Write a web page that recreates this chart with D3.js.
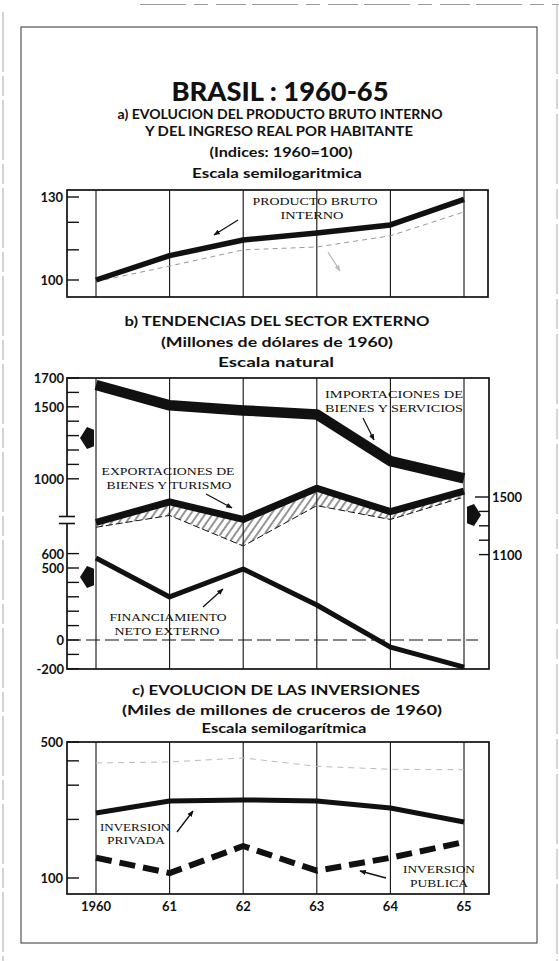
<!DOCTYPE html>
<html><head><meta charset="utf-8">
<script src="https://cdn.jsdelivr.net/npm/d3@7"></script>
<style>body{margin:0;background:#fff}</style>
</head><body>
<svg id="chart" width="559" height="961"></svg>
<script>
// ---------- DATA ----------
const years = [1960, 1961, 1962, 1963, 1964, 1965];
const yearLabels = ["1960", "61", "62", "63", "64", "65"];
// a) indices 1960=100
const productoBruto = [100, 108, 113.5, 116, 119, 129];
const ingresoHabitante = [99.5, 104.5, 110, 111, 115, 124];
// b) millones de dolares de 1960
const importaciones = [1651, 1510, 1475, 1447, 1123, 1003];
const exportaciones = [1324, 1466, 1344, 1561, 1398, 1540];
const exportacionesBase = [1290, 1372, 1160, 1440, 1344, 1500];
const financiamiento = [569, 299, 493, 243, -49, -188];
// c) miles de millones de cruceros de 1960
const inversionPrivada = [216, 249, 252, 249, 229, 194];
const inversionPublica = [127, 106, 146, 109, 127, 153];
const inversionTotal = [390, 395, 414, 375, 362, 360];
// ticks
const ticksA = [100, 110, 120, 130];
const labelsA = [100, 130];
const ticksBUpper = [1000, 1100, 1200, 1300, 1400, 1500, 1600, 1700];
const labelsBUpper = [1700, 1500, 1000];
const ticksBLower = [-200, -100, 0, 100, 200, 300, 400, 500, 600];
const labelsBLower = [600, 500, 0, -200];
const ticksBRight = [1100, 1200, 1300, 1400, 1500];
const labelsBRight = [1500, 1100];
const ticksC = [100, 200, 300, 400, 500];
const labelsC = [100, 500];

// ---------- SETUP ----------
const svg = d3.select("#chart");
const INK = "#111";
const SANS = "Lato, 'Open Sans', 'DejaVu Sans', sans-serif";
const SERIF = "'Liberation Serif', 'DejaVu Serif', serif";
const L = 67, R = 488;

const x = d3.scaleLinear().domain([1960, 1965]).range([96, 464]);
const yA = d3.scaleLog().domain([100, 130]).range([280, 197]);
const yBU = d3.scaleLinear().domain([1000, 1700]).range([478.8, 378]);
const yBL = d3.scaleLinear().domain([-200, 600]).range([668.8, 553.6]);
const yBR = d3.scaleLinear().domain([1100, 1500]).range([554.6, 497]);
const yC = d3.scaleLog().domain([100, 500]).range([878, 742]);

const defs = svg.append("defs");
defs.append("marker").attr("id", "ah").attr("viewBox", "0 0 10 10")
  .attr("refX", 9).attr("refY", 5).attr("markerWidth", 5).attr("markerHeight", 5)
  .attr("orient", "auto").append("path").attr("d", "M0,1 L10,5 L0,9 z").attr("fill", INK);
defs.append("marker").attr("id", "ahg").attr("viewBox", "0 0 10 10")
  .attr("refX", 9).attr("refY", 5).attr("markerWidth", 5).attr("markerHeight", 5)
  .attr("orient", "auto").append("path").attr("d", "M0,1 L10,5 L0,9 z").attr("fill", "#bbb");
const pat = defs.append("pattern").attr("id", "hatch").attr("patternUnits", "userSpaceOnUse")
  .attr("width", 6).attr("height", 6).attr("patternTransform", "rotate(35)");
pat.append("line").attr("x1", 1).attr("y1", 0).attr("x2", 1).attr("y2", 6)
  .attr("stroke", INK).attr("stroke-width", 1.2);

function text(str, cx, y, opt = {}) {
  const t = svg.append("text").attr("x", cx).attr("y", y)
    .attr("text-anchor", opt.anchor || "middle")
    .attr("font-family", opt.family || SANS)
    .attr("font-size", opt.size || 14)
    .attr("font-weight", opt.weight || "bold")
    .attr("fill", opt.fill || INK)
    .text(str);
  if (opt.len) t.attr("textLength", opt.len).attr("lengthAdjust", "spacingAndGlyphs");
  return t;
}
function line(x1, y1, x2, y2, w = 1.2, col = INK, dash = null) {
  const l = svg.append("line").attr("x1", x1).attr("y1", y1).attr("x2", x2).attr("y2", y2)
    .attr("stroke", col).attr("stroke-width", w);
  if (dash) l.attr("stroke-dasharray", dash);
  return l;
}
function arrow(x1, y1, x2, y2, col = INK) {
  line(x1, y1, x2, y2, 1.3, col).attr("marker-end", col === INK ? "url(#ah)" : "url(#ahg)");
}
function blockArrow(tipX, cy, dir) {
  // dir = -1 points left, +1 points right
  const h = 11, head = 7, len = 14;
  const bx = tipX - dir * head, ex = tipX - dir * len;
  svg.append("path").attr("d",
    `M${tipX},${cy} L${bx},${cy - h} L${ex},${cy - h * 0.75} L${ex},${cy + h * 0.75} L${bx},${cy + h} Z`)
    .attr("fill", INK);
}
function box(top, bottom, right) {
  svg.append("rect").attr("x", L).attr("y", top).attr("width", right - L).attr("height", bottom - top)
    .attr("fill", "none").attr("stroke", INK).attr("stroke-width", 1.7);
}
function grid(top, bottom) {
  years.forEach(yr => line(x(yr), top, x(yr), bottom, 1.1));
}
function series(vals, scale, w, dash, col = INK) {
  const gen = d3.line().x((d, i) => x(years[i])).y(d => scale(d));
  const p = svg.append("path").attr("d", gen(vals)).attr("fill", "none")
    .attr("stroke", col).attr("stroke-width", w)
    .attr("stroke-linejoin", "round").attr("stroke-linecap", "butt");
  if (dash) p.attr("stroke-dasharray", dash);
  return p;
}

// ---------- FRAMES ----------
line(140, 4.5, 559, 4.5, 1, "#999", "46,8,14,8,30,6");
line(3, 12, 3, 961, 1, "#aaa", "60,4,20,4");
line(557, 4, 557, 961, 1, "#aaa", "70,5,30,5");
svg.append("rect").attr("x", 21).attr("y", 27).attr("width", 516).attr("height", 916)
  .attr("fill", "none").attr("stroke", "#444").attr("stroke-width", 1.1);

// ---------- TITLES ----------
text("BRASIL : 1960-65", 280, 101, { size: 27, weight: 900, len: 217 });
text("a) EVOLUCION DEL PRODUCTO BRUTO INTERNO", 280, 119, { size: 14, len: 325 });
text("Y DEL INGRESO REAL POR HABITANTE", 279, 136, { size: 14, len: 268 });
text("(Indices: 1960=100)", 281, 157, { size: 14, len: 143 });
text("Escala semilogaritmica", 277, 178, { size: 13, len: 170 });

text("b) TENDENCIAS DEL SECTOR EXTERNO", 277, 326, { size: 14, len: 305 });
text("(Millones de dólares de 1960)", 277, 347, { size: 14, len: 232 });
text("Escala natural", 276, 367, { size: 13, len: 116 });

text("c) EVOLUCION DE LAS INVERSIONES", 276, 695, { size: 14, len: 288 });
text("(Miles de millones de cruceros de 1960)", 282, 715, { size: 14, len: 320 });
text("Escala semilogarítmica", 284, 733, { size: 13, len: 165 });

// ---------- PANEL A ----------
grid(190, 297);
box(190, 297, R);
ticksA.forEach(t => line(L, yA(t), L + 12, yA(t), 1.4));
labelsA.forEach(t => text(String(t), 63, yA(t) + 5, { anchor: "end", size: 13 }));
series(ingresoHabitante, yA, 1, "5,4", "#999");
series(productoBruto, yA, 5.5);
text("PRODUCTO BRUTO", 315, 205, { family: SERIF, size: 10, weight: "normal", len: 125 });
text("INTERNO", 312, 219, { family: SERIF, size: 10, weight: "normal", len: 63 });
arrow(238, 220, 214, 235);
arrow(328, 252, 340, 271, "#bbb");

// ---------- PANEL B ----------
grid(378, 669);
svg.append("rect").attr("x", L).attr("y", 378).attr("width", 489 - L).attr("height", 669 - 378)
  .attr("fill", "none").attr("stroke", INK).attr("stroke-width", 1.7);
// cover left axis for the break
svg.append("rect").attr("x", L - 2).attr("y", 517).attr("width", 4).attr("height", 6).attr("fill", "#fff");
line(L - 8, 516.5, L + 8, 516.5, 1.6);
line(L - 8, 523.5, L + 8, 523.5, 1.6);
ticksBUpper.forEach(t => line(L, yBU(t), L + 12, yBU(t), 1.4));
labelsBUpper.forEach(t => text(String(t), 64, yBU(t) + 5, { anchor: "end", size: 13 }));
ticksBLower.forEach(t => line(L, yBL(t), L + 12, yBL(t), 1.4));
labelsBLower.forEach(t => text(String(t), 64, yBL(t) + 5, { anchor: "end", size: 13 }));
ticksBRight.forEach(t => line(489, yBR(t), 489 - (t === 1500 ? 14 : 10), yBR(t), 1.4));
labelsBRight.forEach(t => text(String(t), 492, yBR(t) + 5, { anchor: "start", size: 13 }));
// zero line
line(L, yBL(0), 478, yBL(0), 1.2, INK, "14,5");
// hatched band between exports and its base line
const area = d3.area().x((d, i) => x(years[i]))
  .y0((d, i) => yBR(exportacionesBase[i])).y1(d => yBR(d));
svg.append("path").attr("d", area(exportaciones)).attr("fill", "url(#hatch)").attr("opacity", 0.75);
series(exportacionesBase, yBR, 1, "7,3");
series(importaciones, yBU, 10.5);
series(exportaciones, yBR, 7);
series(financiamiento, yBL, 5);
blockArrow(80, 438, -1);
blockArrow(481, 515, 1);
blockArrow(80, 577, -1);
text("IMPORTACIONES DE", 394, 398, { family: SERIF, size: 10, weight: "normal", len: 138 });
text("BIENES Y SERVICIOS", 394, 412, { family: SERIF, size: 10, weight: "normal", len: 138 });
arrow(363, 418, 374, 440);
text("EXPORTACIONES DE", 168, 475, { family: SERIF, size: 10, weight: "normal", len: 133 });
text("BIENES Y TURISMO", 169, 489, { family: SERIF, size: 10, weight: "normal", len: 125 });
arrow(206, 494, 232, 508);
text("FINANCIAMIENTO", 168, 621, { family: SERIF, size: 10, weight: "normal", len: 117 });
text("NETO EXTERNO", 167, 635, { family: SERIF, size: 10, weight: "normal", len: 105 });
arrow(203, 607, 223, 589);

// ---------- PANEL C ----------
grid(742, 894);
box(742, 894, 489);
ticksC.forEach(t => line(L, yC(t), L + 12, yC(t), 1.4));
labelsC.forEach(t => text(String(t), 63, yC(t) + 5, { anchor: "end", size: 13 }));
series(inversionTotal, yC, 1, "6,5", "#bbb");
series(inversionPrivada, yC, 5);
series(inversionPublica, yC, 6, "16,8");
text("INVERSION", 135, 831, { family: SERIF, size: 10, weight: "normal", len: 70 });
text("PRIVADA", 136, 844, { family: SERIF, size: 10, weight: "normal", len: 58 });
arrow(177, 832, 193, 811);
text("INVERSION", 439, 873, { family: SERIF, size: 10, weight: "normal", len: 72 });
text("PUBLICA", 439, 887, { family: SERIF, size: 10, weight: "normal", len: 58 });
arrow(386, 878, 360, 871);
years.forEach((yr, i) => text(yearLabels[i], x(yr), 911, { size: 13 }));
</script>
</body></html>
